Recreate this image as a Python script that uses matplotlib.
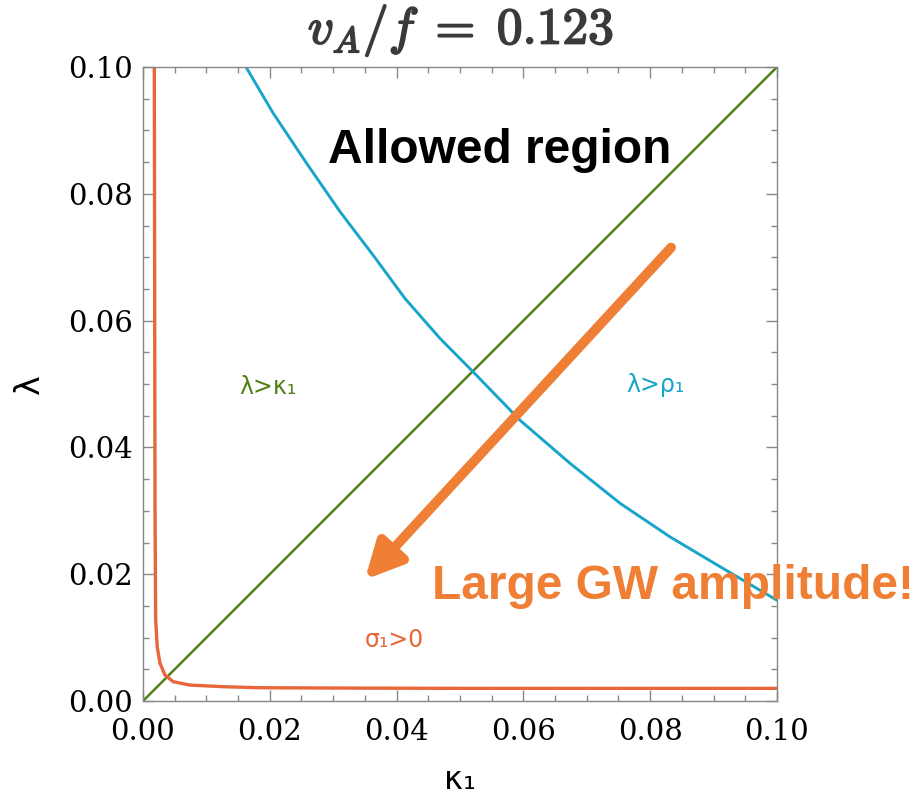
import numpy as np
import matplotlib
matplotlib.use("Agg")
import matplotlib.pyplot as plt
import matplotlib.patheffects as pe

plt.rcParams.update({
    "mathtext.fontset": "cm",
    "font.family": "DejaVu Sans",
})

# lambda = kappa_1 boundary
green_k = [0.0, 0.1]
green_l = [0.0, 0.1]

# lambda = rho_1 boundary
blue_k = [0.01625, 0.02055, 0.02582, 0.03107, 0.03632, 0.04132, 0.04685, 0.0521,
          0.05946, 0.06735, 0.07524, 0.08312, 0.09101, 0.1]
blue_l = [0.1, 0.0927, 0.0848, 0.0772, 0.0703, 0.0635, 0.0572, 0.0519,
          0.0443, 0.0375, 0.0312, 0.0259, 0.0212, 0.0159]

# sigma_1 = 0 boundary
orange_k = [0.00179, 0.00185, 0.0019, 0.0020, 0.00225, 0.00268, 0.00347, 0.00478,
            0.0074, 0.01267, 0.0182, 0.03, 0.05, 0.075, 0.1]
orange_l = [0.1, 0.06, 0.03, 0.0128, 0.0085, 0.00595, 0.0041, 0.00304,
            0.00252, 0.00226, 0.0021, 0.00205, 0.0020, 0.0020, 0.0020]

ticks = [0.00, 0.02, 0.04, 0.06, 0.08, 0.10]
tick_labels = ["0.00", "0.02", "0.04", "0.06", "0.08", "0.10"]

c_green = "#537f18"
c_blue = "#17a5c9"
c_orange = "#e8663a"
c_arrow = "#ef7f35"

fig = plt.figure(figsize=(9.16, 8.02), dpi=100)
ax = fig.add_axes([0.1561, 0.1259, 0.6921, 0.7905])

ax.plot(green_k, green_l, color=c_green, lw=1.8, solid_capstyle="butt")
ax.plot(blue_k, blue_l, color=c_blue, lw=2.1)
ax.plot(orange_k, orange_l, color=c_orange, lw=2.4)

ax.set_xlim(0, 0.1)
ax.set_ylim(0, 0.1)
ax.set_xticks(ticks)
ax.set_yticks(ticks)
ax.set_xticklabels(tick_labels)
ax.set_yticklabels(tick_labels)
ax.set_xticks(np.arange(0, 0.1001, 0.005), minor=True)
ax.set_yticks(np.arange(0, 0.1001, 0.005), minor=True)
ax.tick_params(which="both", direction="in", top=True, right=True, color="#888888", width=1)
ax.tick_params(which="major", length=8, labelsize=21)
ax.tick_params(axis="x", which="major", pad=12)
ax.tick_params(axis="y", which="major", pad=7)
ax.tick_params(which="minor", length=4)
for lab in ax.get_xticklabels() + ax.get_yticklabels():
    lab.set_family("DejaVu Serif")
for s in ax.spines.values():
    s.set_color("#888888")
    s.set_linewidth(1)

ax.set_xlabel("κ₁", fontsize=23, labelpad=14)
ax.set_ylabel("λ", fontsize=24, labelpad=16)

fig.text(0.503, 0.962, r"$v_A/f\;=\;0.123$", fontsize=37, color="#3a3a3a",
         ha="center", va="center",
         path_effects=[pe.withStroke(linewidth=1.3, foreground="#3a3a3a")])

ax.text(0.0563, 0.0869, "Allowed region", fontsize=34.5, fontweight="bold",
        family="Liberation Sans", ha="center", va="center", color="black")
ax.text(0.0197, 0.0495, "λ>κ₁", fontsize=17, color=c_green, ha="center", va="center")
ax.text(0.0808, 0.0498, "λ>ρ₁", fontsize=17, color=c_blue, ha="center", va="center")
ax.text(0.0397, 0.0096, "σ₁>0", fontsize=17, color=c_orange, ha="center", va="center")
ax.text(0.0456, 0.0180, "Large GW amplitude!", fontsize=34.5, fontweight="bold",
        family="Liberation Sans", color=c_arrow, ha="left", va="center", clip_on=False)

ax.annotate("", xy=(0.0350, 0.01915), xytext=(0.0833, 0.07153),
            arrowprops=dict(arrowstyle="-|>,head_length=2.2,head_width=1.1",
                            color=c_arrow, lw=7, shrinkA=0, shrinkB=0))

fig.savefig("out.png", dpi=100)
